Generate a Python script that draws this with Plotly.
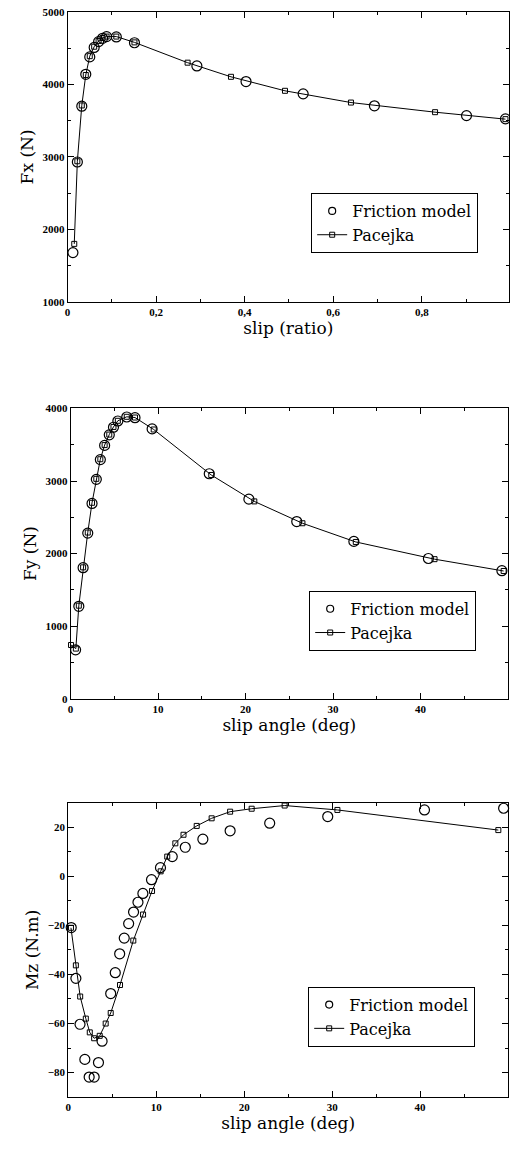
import plotly.graph_objects as go

# ---- Data: longitudinal force Fx vs slip ratio ----
fx_slip_friction = [0.012, 0.022, 0.032, 0.041, 0.050, 0.060, 0.070, 0.079, 0.088, 0.110, 0.151, 0.292, 0.403, 0.532, 0.693, 0.901, 0.989]
fx_friction = [1680, 2930, 3700, 4140, 4380, 4510, 4590, 4636, 4659, 4655, 4575, 4255, 4040, 3870, 3705, 3570, 3525]
fx_slip_pacejka = [0.015, 0.022, 0.032, 0.041, 0.050, 0.060, 0.070, 0.079, 0.088, 0.110, 0.151, 0.271, 0.369, 0.491, 0.640, 0.830, 0.989]
fx_pacejka = [1800, 2940, 3710, 4130, 4390, 4520, 4600, 4640, 4660, 4660, 4580, 4300, 4105, 3912, 3750, 3617, 3521]

# ---- Data: lateral force Fy vs slip angle ----
fy_angle_friction = [0.57, 0.94, 1.43, 1.96, 2.45, 2.94, 3.40, 3.89, 4.42, 4.90, 5.40, 6.42, 7.36, 9.32, 15.85, 20.38, 25.85, 32.38, 40.9, 49.3]
fy_friction = [673, 1273, 1805, 2282, 2691, 3023, 3295, 3491, 3636, 3741, 3827, 3882, 3873, 3718, 3100, 2750, 2441, 2168, 1932, 1764]
fy_angle_pacejka = [0.05, 0.60, 0.94, 1.43, 1.96, 2.45, 2.94, 3.40, 3.89, 4.42, 4.90, 5.40, 6.42, 7.36, 9.50, 16.08, 21.0, 26.5, 32.6, 41.6, 49.5]
fy_pacejka = [740, 690, 1282, 1810, 2290, 2700, 3030, 3300, 3495, 3640, 3745, 3830, 3885, 3875, 3710, 3083, 2719, 2418, 2160, 1923, 1760]

# ---- Data: aligning moment Mz vs slip angle ----
mz_angle_friction = [0.33, 0.86, 1.33, 1.88, 2.37, 2.94, 3.43, 3.84, 4.82, 5.34, 5.84, 6.36, 6.86, 7.42, 7.92, 8.48, 9.46, 10.48, 11.82, 13.3, 15.3, 18.4, 22.9, 29.5, 40.5, 49.5]
mz_friction = [-20.9, -41.6, -60.3, -74.6, -81.8, -81.8, -75.9, -67.2, -47.8, -39.3, -31.6, -25.2, -19.3, -14.6, -10.6, -7.0, -1.4, 3.5, 8.0, 11.8, 15.1, 18.5, 21.6, 24.3, 27.0, 27.7]
mz_angle_pacejka = [0.30, 0.86, 1.35, 1.99, 2.44, 2.94, 3.57, 4.25, 4.82, 5.88, 7.39, 8.50, 9.52, 10.5, 11.25, 12.17, 13.1, 14.6, 16.3, 18.4, 20.85, 24.6, 30.6, 48.9]
mz_pacejka = [-21.0, -36.3, -49.0, -58.0, -63.6, -66.0, -65.0, -60.0, -55.7, -44.3, -26.2, -15.6, -6.0, 2.0, 8.0, 13.4, 16.9, 20.5, 23.6, 26.3, 27.5, 28.8, 27.0, 18.8]

W, H = 510, 1149
SERIF = "Liberation Serif, Times New Roman, serif"
WIDE_SERIF = "DejaVu Serif, serif"
BLACK = "black"

def px_x(p):
    return p / W

def px_y(p):
    return 1 - p / H

circle_marker = dict(symbol="circle-open", size=10, color=BLACK, line=dict(width=1.2, color=BLACK))
square_marker = dict(symbol="square-open", size=5, color=BLACK, line=dict(width=1, color=BLACK))
legend_circle = dict(symbol="circle-open", size=7, color=BLACK, line=dict(width=1.2, color=BLACK))

fig = go.Figure()

panels = [
    (fx_slip_friction, fx_friction, fx_slip_pacejka, fx_pacejka, "x", "y", "legend"),
    (fy_angle_friction, fy_friction, fy_angle_pacejka, fy_pacejka, "x2", "y2", "legend2"),
    (mz_angle_friction, mz_friction, mz_angle_pacejka, mz_pacejka, "x3", "y3", "legend3"),
]
for xf, yf, xp, yp, xa, ya, lg in panels:
    fig.add_trace(go.Scatter(x=xf, y=yf, mode="markers", marker=circle_marker, showlegend=False,
                             name="Friction model", xaxis=xa, yaxis=ya, cliponaxis=False))
    fig.add_trace(go.Scatter(x=xp, y=yp, mode="lines+markers", marker=square_marker,
                             line=dict(color=BLACK, width=1), showlegend=False,
                             name="Pacejka", xaxis=xa, yaxis=ya, cliponaxis=False))
    # legend entries (smaller symbol as in the original key)
    fig.add_trace(go.Scatter(x=[None], y=[None], mode="markers", marker=legend_circle,
                             name="Friction model", xaxis=xa, yaxis=ya, legend=lg))
    fig.add_trace(go.Scatter(x=[None], y=[None], mode="lines+markers", marker=square_marker,
                             line=dict(color=BLACK, width=1),
                             name="Pacejka", xaxis=xa, yaxis=ya, legend=lg))

tickfont = dict(family=SERIF, size=11, color=BLACK, weight="bold")
titlefont = dict(family=WIDE_SERIF, size=17, color=BLACK)

def axis(domain, rng, tick0, dtick, minor_dtick, anchor, title, standoff):
    return dict(
        domain=domain, range=rng, anchor=anchor,
        tick0=tick0, dtick=dtick, tickmode="linear",
        ticks="inside", ticklen=6, tickwidth=1, tickcolor=BLACK,
        showline=True, linecolor=BLACK, linewidth=1, mirror="ticks",
        showgrid=False, zeroline=False,
        minor=dict(ticks="inside", ticklen=3, tickwidth=1, tickcolor=BLACK,
                   dtick=minor_dtick, tick0=tick0, showgrid=False),
        tickfont=tickfont,
        title=dict(text=title, font=titlefont, standoff=standoff),
    )

# panel pixel boxes
x1d = [px_x(65), px_x(509)]
y1d = [px_y(299), px_y(6)]
x2d = [px_x(68), px_x(508)]
y2d = [px_y(700), px_y(406.7)]
x3d = [px_x(65.7), px_x(508)]
y3d = [px_y(1102.7), px_y(805)]

legend_common = dict(xanchor="left", yanchor="top", bordercolor=BLACK, borderwidth=1,
                     bgcolor="white", font=dict(family=WIDE_SERIF, size=16, color=BLACK),
                     tracegroupgap=0, itemwidth=30)

fig.update_layout(
    width=W, height=H,
    margin=dict(l=0, r=0, t=0, b=0),
    paper_bgcolor="white", plot_bgcolor="white",
    separators=", ",
    showlegend=True,
    xaxis=axis(x1d, [0, 0.997], 0, 0.2, 0.1, "y", "slip (ratio)", 3),
    yaxis=axis(y1d, [1000, 5000], 1000, 1000, 500, "x", "Fx (N)", 4),
    xaxis2=axis(x2d, [0, 50], 0, 10, 5, "y2", "slip angle (deg)", 3),
    yaxis2=axis(y2d, [0, 4000], 0, 1000, 500, "x2", "Fy (N)", 4),
    xaxis3=axis(x3d, [0, 50], 0, 10, 5, "y3", "slip angle (deg)", 3),
    yaxis3=axis(y3d, [-90, 30], -80, 20, 10, "x3", "Mz (N.m)", 4),
    legend=dict(x=px_x(310), y=px_y(189), **legend_common),
    legend2=dict(x=px_x(308), y=px_y(591), **legend_common),
    legend3=dict(x=px_x(307), y=px_y(991), **legend_common),
)

post = (
    "document.documentElement.style.overflow='hidden';"
    "document.body.style.margin='0';"
    "document.body.style.overflow='hidden';"
)
fig.write_html("out.html", config={"displayModeBar": False}, post_script=post)
